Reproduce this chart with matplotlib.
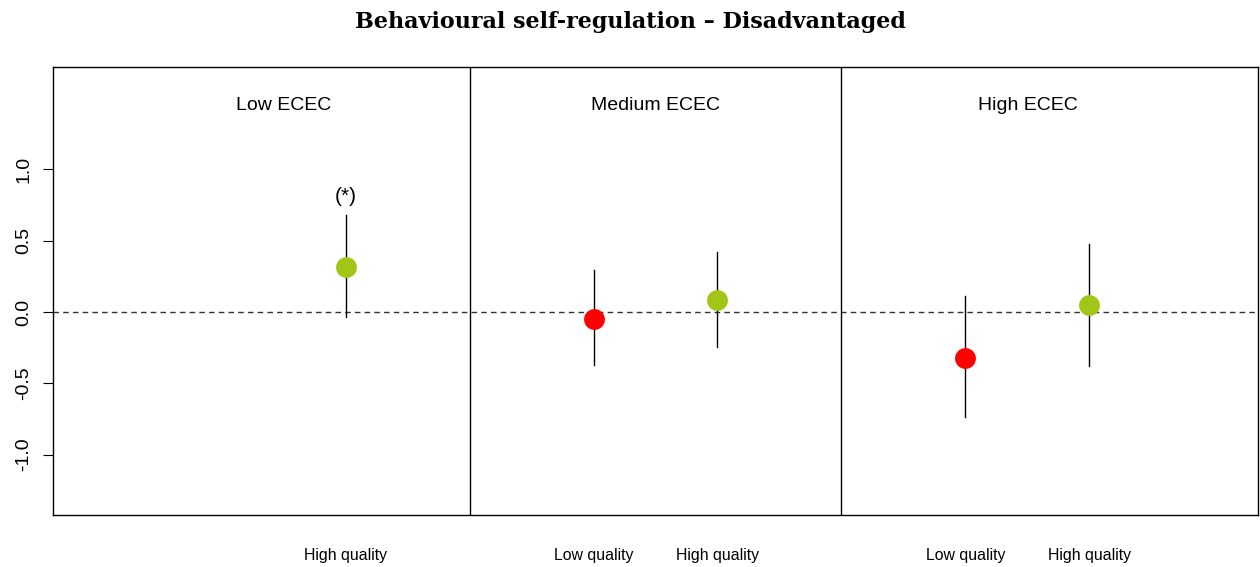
import matplotlib
matplotlib.use("Agg")
import matplotlib.pyplot as plt

# panel / quality layout (x positions on a 0..9 scale)
panels = ["Low ECEC", "Medium ECEC", "High ECEC"]
panel_centres = [1.5, 4.5, 7.5]
panel_breaks = [3, 6]

x_pos = [2, 4, 5, 7, 8]
x_labels = ["High quality", "Low quality", "High quality", "Low quality", "High quality"]
quality = ["high", "low", "high", "low", "high"]
estimate = [0.315, -0.05, 0.085, -0.32, 0.05]
ci_low = [-0.035, -0.37, -0.245, -0.74, -0.38]
ci_high = [0.68, 0.295, 0.42, 0.11, 0.48]
signif = ["(*)", "", "", "", ""]

colours = {"low": "#FF0000", "high": "#A2C617"}

fig = plt.figure(figsize=(12.6, 5.67), dpi=100)
ax = fig.add_axes([53 / 1260, 1 - 515 / 567, (1258 - 53) / 1260, (515 - 67) / 567])

ax.axhline(0, color="#333333", linestyle=(0, (4, 3)), linewidth=1.0, zorder=1)
for b in panel_breaks:
    ax.axvline(b, color="black", linewidth=1.0, zorder=1)

for x, est, lo, hi, q, s in zip(x_pos, estimate, ci_low, ci_high, quality, signif):
    ax.plot([x, x], [lo, hi], color="black", linewidth=1.0, zorder=2)
    ax.plot(x, est, "o", markersize=15, color=colours[q], markeredgewidth=0, zorder=3)
    if s:
        ax.text(x, 0.81, s, ha="center", va="center", fontsize=15,
                family="Liberation Sans")

for label, xc in zip(panels, panel_centres):
    ax.text(xc, 1.45, label, ha="center", va="center", fontsize=14,
            family="Liberation Sans")

ax.set_xlim(-0.36, 9.36)
ax.set_ylim(-1.424, 1.718)
ax.set_yticks([-1.0, -0.5, 0.0, 0.5, 1.0])
ax.set_yticklabels(["-1.0", "-0.5", "0.0", "0.5", "1.0"], rotation=90, va="center",
                   fontsize=14, family="Liberation Sans")
ax.tick_params(axis="y", length=7, pad=8)
ax.set_xticks(x_pos)
ax.set_xticklabels(x_labels, fontsize=11.4, family="Liberation Sans")
ax.tick_params(axis="x", length=0, pad=24)
for sp in ax.spines.values():
    sp.set_linewidth(1.0)

fig.text(0.5, 1 - 22 / 567, "Behavioural self-regulation \u2013 Disadvantaged",
         ha="center", va="center", fontsize=16, fontweight="bold", family="DejaVu Serif")

fig.savefig("out.png", dpi=100)
